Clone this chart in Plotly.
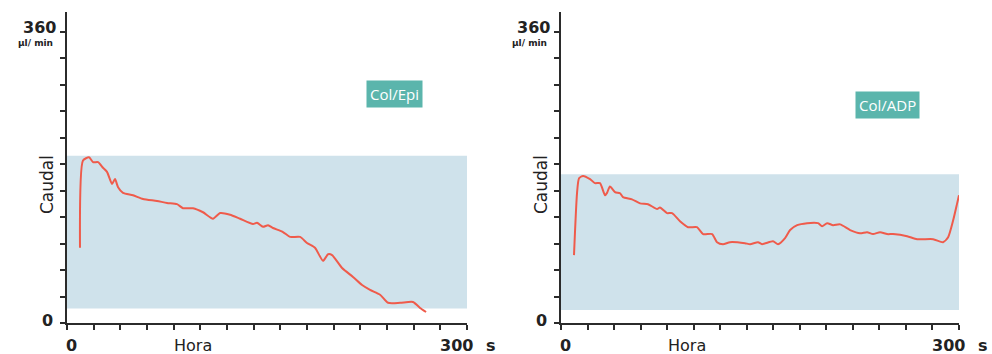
import plotly.graph_objects as go

# ---------------- data ----------------
epi_t = [9.75, 12, 16.5, 19.5, 23.3, 27, 30, 33.8, 36, 38.3, 42, 49.5, 57, 67.5, 75, 82.5, 87, 94.5,
         102, 109.5, 114.8, 122.3, 129.8, 139.5, 142.5, 147, 150.8, 154.5, 162, 167.3, 174.8, 180,
         186, 192, 195.8, 198.8, 206.3, 214.5, 221.3, 227.3, 234.8, 240.8, 249.8, 259.5, 264.8, 269.3]
epi_v = [93, 201, 205, 199, 199, 192, 187, 172, 178, 168, 161, 158, 153.5, 151, 148.5, 147, 142, 142,
         137, 129, 136, 134, 129, 122.5, 124, 119, 121, 117.5, 112.5, 106.5, 106.5, 99,
         93, 77, 85, 84, 68, 57, 47, 41, 35, 25, 25, 26, 18.6, 13.6]

adp_t = [9.8, 12.1, 13.6, 16.6, 21.9, 25.6, 29.4, 33.2, 34.7, 36.9, 40.7, 44.5, 46.7, 53.5, 59.6, 65.6,
         72.4, 74.6, 79.9, 83.7, 89.7, 95.8, 102.5, 107.1, 113.9, 117.6, 122.1, 127.4, 138.7, 142.5,
         148.5, 151.6, 159.8, 163.6, 168.9, 172.7, 178.0, 185.5, 193.8, 196.8, 200.6, 205.1, 210.4,
         217.9, 225.4, 230.7, 235.2, 240.5, 245.8, 250.3, 260.9, 268.4, 280.5, 288.0, 291.8, 295.6,
         298.6, 300.0]
adp_v = [84, 161, 179, 182, 178, 173, 173, 158, 161, 169, 162, 160.5, 155.7, 153, 148, 147,
         141, 143, 136, 136, 126, 118.5, 118.5, 110, 110, 100, 97.5, 100, 98.7, 97.5,
         100, 97.5, 101, 97.5, 105, 115, 121, 123.5, 123.5, 119.7, 123.5, 121, 122,
         115, 111, 112.4, 110, 112.4, 110, 110, 107.4, 103.7, 103.7, 100, 106, 127,
         148, 158]

band_epi = [18, 207]
band_adp = [16, 184]

y_ticks = [i * 360 / 11 for i in range(12)]
x_ticks = list(range(0, 301, 20))
panel_labels = ["Col/Epi", "Col/ADP"]

# ---------------- layout helpers ----------------
W, H = 992, 354
def px_x(p):
    return p / W
def px_y(p):
    return (H - p) / H

AX = "#2b2b2b"
LINE = "#ef5b4b"
BAND = "#cfe2eb"
TEAL = "#5bb5ac"
FONT = "DejaVu Sans"

y_top_px, y0_px, y360_px = 12, 323, 32
y_max = 360 * (y0_px - y_top_px) / (y0_px - y360_px)

panels = [
    dict(x0=67, x1=467, t=epi_t, v=epi_v, band=band_epi, lab=panel_labels[0], lab_x=394, lab_y=94),
    dict(x0=561, x1=959, t=adp_t, v=adp_v, band=band_adp, lab=panel_labels[1], lab_x=887.5, lab_y=105),
]

fig = go.Figure()
shapes = []
annotations = []
layout_axes = {}

for i, p in enumerate(panels):
    n = "" if i == 0 else str(i + 1)
    xa, ya = "x" + n, "y" + n
    fig.add_trace(go.Scatter(x=p["t"], y=p["v"], mode="lines", xaxis=xa, yaxis=ya,
                             line=dict(color=LINE, width=2, shape="spline", smoothing=0.6),
                             showlegend=False, hoverinfo="skip"))
    common = dict(showline=True, linecolor=AX, linewidth=2, ticks="outside", ticklen=5,
                  tickwidth=2, tickcolor=AX, showticklabels=False, showgrid=False,
                  zeroline=False, fixedrange=True)
    layout_axes["xaxis" + n] = dict(domain=[px_x(p["x0"]), px_x(p["x1"])], range=[0, 300],
                                    anchor=ya, tickvals=x_ticks, **common)
    layout_axes["yaxis" + n] = dict(domain=[px_y(y0_px), px_y(y_top_px)], range=[0, y_max],
                                    anchor=xa, tickvals=y_ticks, **common)
    shapes.append(dict(type="rect", xref=xa, yref=ya, x0=0, x1=300, y0=p["band"][0], y1=p["band"][1],
                       fillcolor=BAND, line=dict(width=0), layer="below"))

    x0 = p["x0"]
    tf = dict(family=FONT, color="#222222")
    def ann(text, x, y, size, **kw):
        d = dict(text=text, xref="paper", yref="paper", x=px_x(x), y=px_y(y), showarrow=False,
                 font=dict(size=size, **tf))
        d.update(kw)
        annotations.append(d)
    ann("<b>360</b>", x0 - 9, 27, 16, xanchor="right", yanchor="middle")
    ann("<b>µl/ min</b>", x0 - 12, 43, 9, xanchor="right", yanchor="middle")
    ann("<b>0</b>", x0 - 12, 320, 16, xanchor="right", yanchor="middle")
    ann("Caudal", x0 - 20, 185, 17, xanchor="center", yanchor="middle", textangle=-90)
    ann("<b>0</b>", x0 + 4, 345, 16, xanchor="center", yanchor="middle")
    ann("Hora", x0 + 126, 345, 16, xanchor="center", yanchor="middle")
    ann("<b>300</b>", p["x1"] - 11, 345, 16, xanchor="center", yanchor="middle")
    ann("<b>s</b>", p["x1"] + 24, 345, 16, xanchor="center", yanchor="middle")
    annotations.append(dict(text=p["lab"], xref="paper", yref="paper", x=px_x(p["lab_x"]),
                            y=px_y(p["lab_y"]), showarrow=False, xanchor="center", yanchor="middle",
                            bgcolor=TEAL, borderpad=3,
                            font=dict(family="Open Sans", size=15, color="white")))

fig.update_layout(width=W, height=H, margin=dict(l=0, r=0, t=0, b=0),
                  paper_bgcolor="white", plot_bgcolor="white",
                  shapes=shapes, annotations=annotations, **layout_axes)

fig.write_html("out.html", config={"displayModeBar": False},
               post_script="document.body.style.margin='0';document.body.style.padding='0';"
                           "document.body.style.overflow='hidden';")
